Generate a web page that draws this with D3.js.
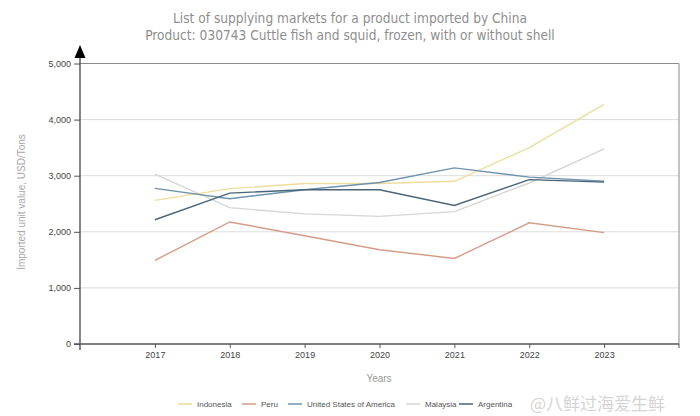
<!DOCTYPE html>
<html><head><meta charset="utf-8">
<script src="https://cdn.jsdelivr.net/npm/d3@7"></script>
<style>body{margin:0;background:#fff}</style>
</head><body>
<svg id="c" width="700" height="416"></svg>
<script>
const years = [2017, 2018, 2019, 2020, 2021, 2022, 2023];
const indonesia = [2560, 2770, 2860, 2860, 2900, 3500, 4270];
const peru = [1490, 2175, 1930, 1680, 1525, 2160, 1985];
const usa = [2775, 2590, 2750, 2880, 3140, 2975, 2900];
const malaysia = [3030, 2430, 2320, 2275, 2360, 2870, 3478];
const argentina = [2215, 2690, 2750, 2750, 2470, 2930, 2885];
const yTicks = [0, 1000, 2000, 3000, 4000, 5000];
const seriesNames = ["Indonesia", "Peru", "United States of America", "Malaysia", "Argentina"];
const seriesColors = ["#eedd9c", "#d49c86", "#6e93ad", "#d6d6d6", "#4b6478"];
const seriesData = [indonesia, peru, usa, malaysia, argentina];

const svg = d3.select("#c");
const x = d3.scaleLinear().domain([2016, 2024]).range([80, 679]);
const y = d3.scaleLinear().domain([0, 5000]).range([344, 63.5]);

// title
svg.append("text").attr("x", 350).attr("y", 23).attr("text-anchor", "middle")
  .attr("font-family", "DejaVu Sans Condensed, DejaVu Sans").attr("font-size", 13.6).attr("fill", "#8e8e8e")
  .text("List of supplying markets for a product imported by China");
svg.append("text").attr("x", 350).attr("y", 40).attr("text-anchor", "middle")
  .attr("font-family", "DejaVu Sans Condensed, DejaVu Sans").attr("font-size", 13.6).attr("fill", "#8e8e8e")
  .text("Product: 030743 Cuttle fish and squid, frozen, with or without shell");

// gridlines
svg.append("g").selectAll("line").data(yTicks.filter(d => d > 0 && d < 5000)).join("line")
  .attr("x1", 80).attr("x2", 679).attr("y1", d => y(d)).attr("y2", d => y(d))
  .attr("stroke", "#dcdcdc").attr("stroke-width", 1);
// top frame
svg.append("line").attr("x1", 80).attr("x2", 679).attr("y1", y(5000)).attr("y2", y(5000))
  .attr("stroke", "#8c8c8c").attr("stroke-width", 1.2);
svg.append("line").attr("x1", 679).attr("x2", 679).attr("y1", y(5000)).attr("y2", y(0))
  .attr("stroke", "#9a9a9a").attr("stroke-width", 1.2);

// y axis
const yAxis = d3.axisLeft(y).tickValues(yTicks).tickFormat(d3.format(",")).tickSize(6).tickPadding(3);
const gy = svg.append("g").attr("transform", "translate(80,0)").call(yAxis);
gy.select(".domain").remove();
gy.selectAll(".tick line").attr("stroke", "#555");
gy.selectAll("text").attr("font-family", "Liberation Sans, Arial").attr("font-size", 9).attr("fill", "#444");
svg.append("line").attr("x1", 80).attr("x2", 80).attr("y1", 52).attr("y2", 350)
  .attr("stroke", "#444").attr("stroke-width", 1.3);
svg.append("path").attr("d", `M80,45 L74.5,58 L85.5,58 Z`).attr("fill", "#000");

// x axis
const xAxis = d3.axisBottom(x).tickValues(years).tickFormat(d3.format("d")).tickSize(4).tickPadding(4);
const gx = svg.append("g").attr("transform", `translate(0,${y(0)})`).call(xAxis);
gx.select(".domain").remove();
gx.selectAll(".tick line").attr("stroke", "#555");
gx.selectAll("text").attr("font-family", "Liberation Sans Narrow, Liberation Sans, Arial").attr("font-size", 9).attr("fill", "#444");
svg.append("line").attr("x1", 74).attr("x2", 679).attr("y1", y(0)).attr("y2", y(0))
  .attr("stroke", "#555").attr("stroke-width", 1.3);
svg.append("line").attr("x1", 679).attr("x2", 679).attr("y1", y(0)).attr("y2", y(0) + 4)
  .attr("stroke", "#555");

// axis titles
svg.append("text").attr("x", 379).attr("y", 382).attr("text-anchor", "middle")
  .attr("font-family", "Liberation Sans, Arial").attr("font-size", 10).attr("fill", "#9a9a9a").text("Years");
svg.append("text").attr("transform", "translate(25,202) rotate(-90)").attr("text-anchor", "middle")
  .attr("font-family", "Liberation Sans, Arial").attr("font-size", 10).attr("fill", "#a8a8a8")
  .text("Imported unit value, USD/Tons");

// lines
const line = d3.line().x((d, i) => x(years[i])).y(d => y(d));
const order = [3, 0, 1, 2, 4];
order.forEach(k => {
  svg.append("path").datum(seriesData[k]).attr("d", line).attr("fill", "none")
    .attr("stroke", seriesColors[k]).attr("stroke-width", 1.4);
});

// legend
const legendX = [178, 242, 288, 406, 459];
const lg = svg.append("g");
seriesNames.forEach((n, i) => {
  lg.append("line").attr("x1", legendX[i]).attr("x2", legendX[i] + 14).attr("y1", 404).attr("y2", 404)
    .attr("stroke", seriesColors[i]).attr("stroke-width", 1.5);
  lg.append("text").attr("x", legendX[i] + 19).attr("y", 407)
    .attr("font-family", "Liberation Sans Narrow, Liberation Sans, Arial").attr("font-size", 8).attr("fill", "#555").text(n);
});

// watermark
svg.append("text").attr("x", 530).attr("y", 410)
  .attr("font-family", "Noto Sans CJK SC").attr("font-size", 17).attr("fill", "#d4d4d4")
  .text("@八鲜过海爱生鲜");
</script>
</body></html>
